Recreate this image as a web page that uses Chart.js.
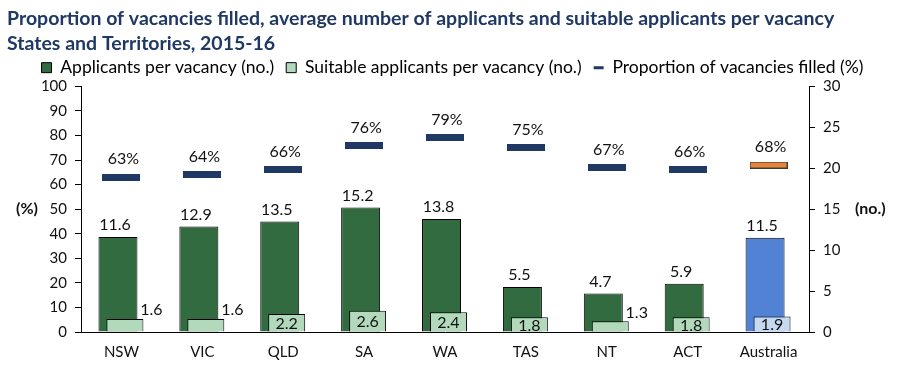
<!DOCTYPE html>
<html>
<head>
<meta charset="utf-8">
<script src="https://cdn.jsdelivr.net/npm/chart.js@4.4.0/dist/chart.umd.min.js"></script>
<style>
  body { margin: 0; background: #fff; }
  #wrap { width: 898px; height: 370px; position: relative; }
</style>
</head>
<body>
<div id="wrap"><canvas id="vacancyChart"></canvas></div>
<script>
// Dữ liệu - States and Territories, 2015-16
const categories = ['NSW', 'VIC', 'QLD', 'SA', 'WA', 'TAS', 'NT', 'ACT', 'Australia'];
const applicants = [11.6, 12.9, 13.5, 15.2, 13.8, 5.5, 4.7, 5.9, 11.5];   // no.
const suitable = [1.6, 1.6, 2.2, 2.6, 2.4, 1.8, 1.3, 1.8, 1.9];           // no.
const filled = [63, 64, 66, 76, 79, 75, 67, 66, 68];                      // %
const leftTicks = [0, 10, 20, 30, 40, 50, 60, 70, 80, 90, 100];
const rightTicks = [0, 5, 10, 15, 20, 25, 30];

const FONT = 'Lato';
const NAVY = '#1F3864';
const DARK_GREEN = '#336B41';
const LIGHT_GREEN = '#B3D9BC';
const TOTAL_BLUE = '#5182D3';
const TOTAL_LIGHT = '#C6D9F1';
const TOTAL_ORANGE = '#E8833A';

const isTotal = categories.map(c => c === 'Australia');

// dấu gạch ngang cho tỷ lệ lấp đầy
function makeDash(fill, stroke) {
    const c = document.createElement('canvas');
    c.width = 38; c.height = 7;
    const g = c.getContext('2d');
    g.fillStyle = fill;
    g.fillRect(0, 0, 38, 7);
    if (stroke) {
        g.strokeStyle = stroke;
        g.lineWidth = 1;
        g.strokeRect(0.5, 0.5, 37, 6);
    }
    return c;
}
const navyDash = makeDash(NAVY);
const orangeDash = makeDash(TOTAL_ORANGE, '#3a3a3a');

// nhãn giá trị
const valueLabels = {
    id: 'valueLabels',
    afterDatasetsDraw(chart) {
        const ctx = chart.ctx;
        ctx.save();
        ctx.font = '16px ' + FONT;
        ctx.fillStyle = '#111';
        ctx.textAlign = 'center';
        ctx.textBaseline = 'middle';

        chart.getDatasetMeta(0).data.forEach((el, i) => {
            ctx.fillText(applicants[i].toFixed(1), el.x - 3, el.y - 12);
        });
        chart.getDatasetMeta(1).data.forEach((el, i) => {
            const h = el.base - el.y;
            if (h < 14) {
                ctx.fillText(suitable[i].toFixed(1), el.x + el.width / 2 + 8, el.y - 9);
            } else {
                ctx.fillText(suitable[i].toFixed(1), el.x, (el.y + el.base) / 2 + 1);
            }
        });
        chart.getDatasetMeta(2).data.forEach((el, i) => {
            ctx.fillText(filled[i] + '%', el.x + 2, el.y - 18);
        });

        // tên trục
        ctx.font = 'bold 16px ' + FONT;
        const a = chart.chartArea;
        const midY = (a.top + a.bottom) / 2;
        ctx.textAlign = 'left';
        ctx.fillText('(%)', 16, midY);
        ctx.fillText('(no.)', 855, midY);
        ctx.restore();
    }
};

const ctx = document.getElementById('vacancyChart').getContext('2d');
const vacancyChart = new Chart(ctx, {
    type: 'bar',
    data: {
        labels: categories,
        datasets: [{
            label: 'Applicants per vacancy (no.)',
            data: applicants.map((v, i) => ({ x: i, y: v })),
            xAxisID: 'xa',
            yAxisID: 'y1',
            grouped: false,
            backgroundColor: isTotal.map(t => t ? TOTAL_BLUE : DARK_GREEN),
            borderColor: '#000',
            borderWidth: 1,
            categoryPercentage: 1,
            barPercentage: 0.482,
            order: 3
        }, {
            label: 'Suitable applicants per vacancy (no.)',
            data: suitable.map((v, i) => ({ x: i, y: v })),
            xAxisID: 'xs',
            yAxisID: 'y1',
            grouped: false,
            backgroundColor: isTotal.map(t => t ? TOTAL_LIGHT : LIGHT_GREEN),
            borderColor: '#000',
            borderWidth: 1,
            categoryPercentage: 1,
            barPercentage: 0.457,
            order: 2
        }, {
            type: 'line',
            label: 'Proportion of vacancies filled (%)',
            data: filled,
            xAxisID: 'x',
            yAxisID: 'y',
            showLine: false,
            pointStyle: isTotal.map(t => t ? orangeDash : navyDash),
            pointRadius: 4,
            borderColor: NAVY,
            backgroundColor: NAVY,
            order: 1
        }]
    },
    options: {
        responsive: true,
        maintainAspectRatio: false,
        animation: false,
        events: [],
        layout: { padding: { left: 7, right: 0, top: 0, bottom: 0 } },
        plugins: {
            title: {
                display: true,
                align: 'start',
                text: ['Proportion of vacancies filled, average number of applicants and suitable applicants per vacancy',
                       'States and Territories, 2015-16'],
                color: NAVY,
                font: { family: FONT, weight: 'bold', size: 19.5, lineHeight: 1.28 },
                padding: { top: 6, bottom: -9 }
            },
            legend: {
                position: 'top',
                labels: {
                    color: '#111',
                    font: { family: FONT, size: 17.5 },
                    usePointStyle: true,
                    pointStyleWidth: 10,
                    boxHeight: 10,
                    padding: 12,
                    generateLabels: () => [
                        { text: 'Applicants per vacancy (no.)', pointStyle: 'rect', fillStyle: DARK_GREEN, strokeStyle: '#000', lineWidth: 1, datasetIndex: 0 },
                        { text: 'Suitable applicants per vacancy (no.)', pointStyle: 'rect', fillStyle: LIGHT_GREEN, strokeStyle: '#000', lineWidth: 1, datasetIndex: 1 },
                        { text: 'Proportion of vacancies filled (%)', pointStyle: 'line', fillStyle: NAVY, strokeStyle: NAVY, lineWidth: 3, datasetIndex: 2 }
                    ]
                }
            },
            tooltip: { enabled: false }
        },
        scales: {
            x: {
                type: 'category',
                offset: true,
                grid: { display: false },
                border: { display: true, color: '#000', width: 1 },
                ticks: { color: '#111', font: { family: FONT, size: 15 } },
                afterFit: s => { s.height = 38; }
            },
            xa: { type: 'linear', display: false, offset: false, bounds: 'data', min: -0.5 + 0.043, max: 8.5 + 0.043 },
            xs: { type: 'linear', display: false, offset: false, bounds: 'data', min: -0.5 - 0.043, max: 8.5 - 0.043 },
            y: {
                position: 'left',
                min: 0,
                max: 100,
                afterBuildTicks: s => { s.ticks = leftTicks.map(v => ({ value: v })); },
                grid: { drawOnChartArea: false, color: '#000', tickLength: 6 },
                border: { color: '#000' },
                ticks: { color: '#111', padding: 8, font: { family: FONT, size: 15 } },
                afterFit: s => { s.width = 74; }
            },
            y1: {
                position: 'right',
                min: 0,
                max: 30,
                afterBuildTicks: s => { s.ticks = rightTicks.map(v => ({ value: v })); },
                grid: { drawOnChartArea: false, color: '#000', tickLength: 6 },
                border: { color: '#000' },
                ticks: { color: '#111', padding: 8, font: { family: FONT, size: 15 } },
                afterFit: s => { s.width = 89; }
            }
        }
    },
    plugins: [valueLabels]
});
</script>
</body>
</html>
